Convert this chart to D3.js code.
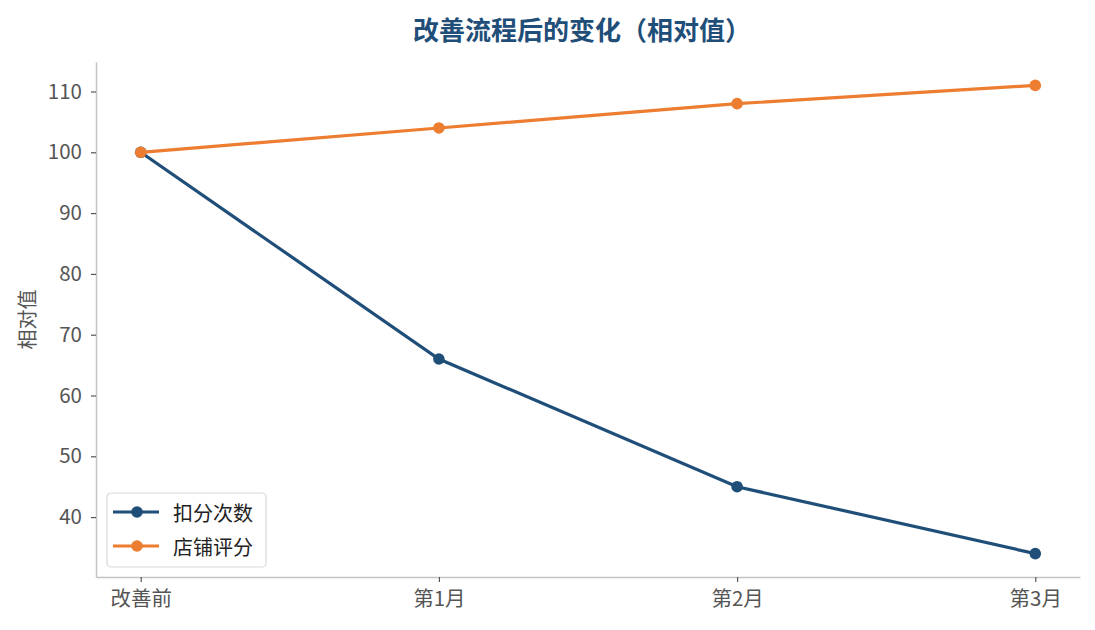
<!DOCTYPE html>
<html lang="zh">
<head>
<meta charset="utf-8">
<title>改善流程后的变化</title>
<script src="https://d3js.org/d3.v7.min.js"></script>
<style>
  body { margin: 0; background: #fff; }
  svg { font-family: "Noto Sans CJK SC", "Noto Sans", sans-serif; }
</style>
</head>
<body>
<div id="chart"></div>
<script>
const categories = ['改善前', '第1月', '第2月', '第3月'];
const deductions = [100, 66, 45, 34];
const storeScore = [100, 104, 108, 111];
const yTicks = [40, 50, 60, 70, 80, 90, 100, 110];

const series = [
  { name: '扣分次数', values: deductions, color: '#1f4e79' },
  { name: '店铺评分', values: storeScore, color: '#ed7d31' }
];

const width = 1095, height = 630;
const plotLeft = 96, plotRight = 1080, plotTop = 62, plotBottom = 577;

const svg = d3.select('#chart').append('svg')
  .attr('width', width)
  .attr('height', height);

const x = d3.scaleLinear()
  .domain([-0.15, categories.length - 1 + 0.15])
  .range([plotLeft, plotRight]);

const y = d3.scaleLinear()
  .domain([30.15, 114.85])
  .range([plotBottom, plotTop]);

// axes
const xAxis = svg.append('g')
  .attr('transform', `translate(0,${plotBottom})`)
  .call(d3.axisBottom(x)
    .tickValues(d3.range(categories.length))
    .tickFormat(i => categories[i])
    .tickSize(5)
    .tickSizeOuter(0)
    .tickPadding(9));

const yAxis = svg.append('g')
  .attr('transform', `translate(${plotLeft},0)`)
  .call(d3.axisLeft(y)
    .tickValues(yTicks)
    .tickSize(5)
    .tickSizeOuter(0)
    .tickPadding(9));

[xAxis, yAxis].forEach(a => {
  a.attr('font-family', null).attr('font-size', null);
  a.select('.domain').attr('stroke', '#c4c4c4').attr('stroke-width', 1.5);
  a.selectAll('.tick line').attr('stroke', '#555').attr('stroke-width', 1.2);
  a.selectAll('.tick text')
    .attr('fill', '#555')
    .style('font-size', '20.5px');
});

// y label
svg.append('text')
  .attr('transform', `translate(26,${(plotTop + plotBottom) / 2}) rotate(-90)`)
  .attr('text-anchor', 'middle')
  .attr('dominant-baseline', 'central')
  .attr('fill', '#555')
  .style('font-size', '20px')
  .text('相对值');

// title
svg.append('text')
  .attr('x', 582)
  .attr('y', 40)
  .attr('text-anchor', 'middle')
  .attr('fill', '#1f4e79')
  .style('font-size', '26px')
  .style('font-weight', 'bold')
  .text('改善流程后的变化（相对值）');

// lines and points
const line = d3.line()
  .x((d, i) => x(i))
  .y(d => y(d));

series.forEach(s => {
  svg.append('path')
    .datum(s.values)
    .attr('fill', 'none')
    .attr('stroke', s.color)
    .attr('stroke-width', 3.2)
    .attr('d', line);
  svg.selectAll(null)
    .data(s.values)
    .join('circle')
    .attr('cx', (d, i) => x(i))
    .attr('cy', d => y(d))
    .attr('r', 5.8)
    .attr('fill', s.color);
});

// legend
const legend = svg.append('g').attr('transform', 'translate(107,493)');
legend.append('rect')
  .attr('width', 159)
  .attr('height', 74)
  .attr('rx', 4)
  .attr('fill', '#fff')
  .attr('fill-opacity', 0.8)
  .attr('stroke', '#d8d8d8')
  .attr('stroke-width', 1.2);

series.forEach((s, i) => {
  const g = legend.append('g').attr('transform', `translate(0,${19 + i * 34})`);
  g.append('line')
    .attr('x1', 6).attr('x2', 52)
    .attr('stroke', s.color)
    .attr('stroke-width', 3.2);
  g.append('circle')
    .attr('cx', 30)
    .attr('r', 5.8)
    .attr('fill', s.color);
  g.append('text')
    .attr('x', 66)
    .attr('dominant-baseline', 'central')
    .attr('fill', '#222')
    .style('font-size', '20px')
    .text(s.name);
});
</script>
</body>
</html>
